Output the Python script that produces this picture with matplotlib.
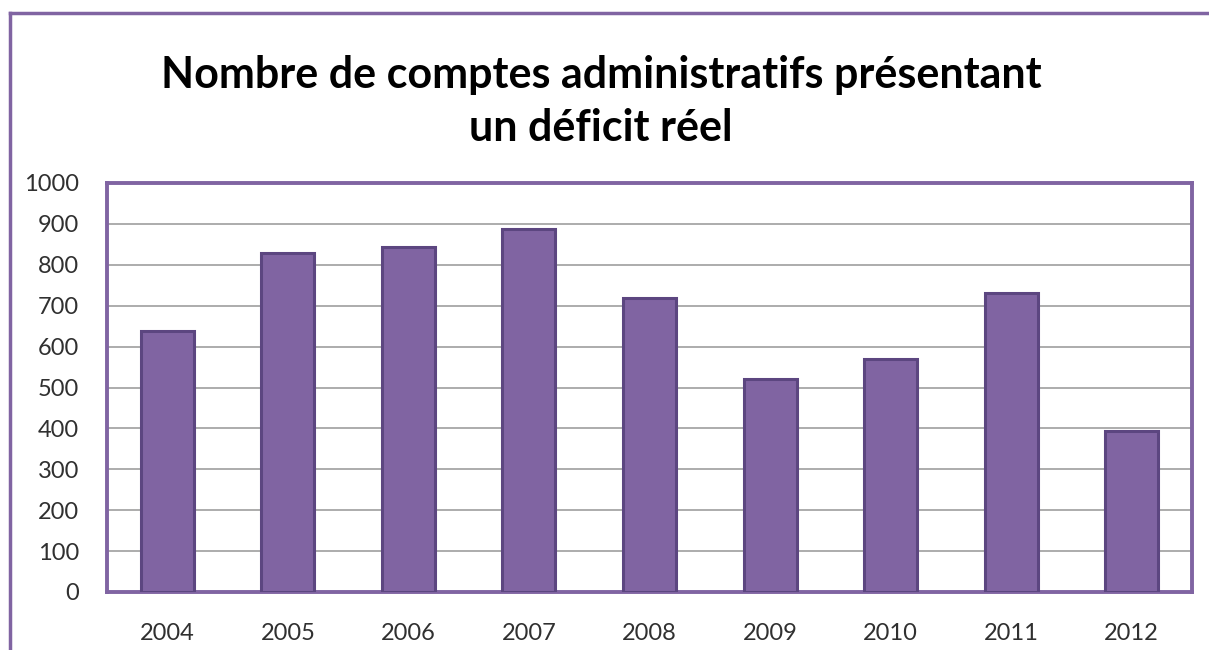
import matplotlib.pyplot as plt
from matplotlib.lines import Line2D

# Data
years = ["2004", "2005", "2006", "2007", "2008", "2009", "2010", "2011", "2012"]
counts = [638, 828, 844, 888, 720, 520, 569, 732, 393]
y_ticks = [0, 100, 200, 300, 400, 500, 600, 700, 800, 900, 1000]

PURPLE = "#8064a2"
EDGE = "#5c4680"

plt.rcParams["font.family"] = ["Lato", "DejaVu Sans"]

W, H = 1209, 650
fig = plt.figure(figsize=(W / 100, H / 100), dpi=100)
fig.patch.set_facecolor("white")

# outer chart frame: only the left and top edges are visible in the crop
fig.lines.append(Line2D([10 / W, 10 / W], [0, 1 - 13 / H], transform=fig.transFigure,
                        color=PURPLE, linewidth=2.5))
fig.lines.append(Line2D([10 / W, 1], [1 - 13 / H, 1 - 13 / H], transform=fig.transFigure,
                        color=PURPLE, linewidth=2.5))

ax = fig.add_axes([107 / W, 1 - 592 / H, (1192 - 107) / W, (592 - 183) / H])

x = range(len(years))
ax.bar(x, counts, width=0.44, color=PURPLE, edgecolor=EDGE, linewidth=2.2, zorder=3)

ax.set_xlim(-0.5, len(years) - 0.5)
ax.set_ylim(0, 1000)
ax.set_yticks(y_ticks)
ax.set_yticklabels([str(v) for v in y_ticks])
ax.set_xticks(list(x))
ax.set_xticklabels(years)
ax.tick_params(length=0, labelsize=17, colors="#303030")
ax.tick_params(axis="x", pad=22)
ax.tick_params(axis="y", pad=20)

ax.grid(axis="y", color="#a6a6a6", linewidth=1.3, zorder=0)
for s in ax.spines.values():
    s.set_color(PURPLE)
    s.set_linewidth(2.8)

fig.text(0.497, 1 - 75 / H, "Nombre de comptes administratifs présentant",
         ha="center", va="center", fontsize=31, fontweight="bold", color="black")
fig.text(0.497, 1 - 128 / H, "un déficit réel",
         ha="center", va="center", fontsize=31, fontweight="bold", color="black")

fig.savefig("out.png", dpi=100)
